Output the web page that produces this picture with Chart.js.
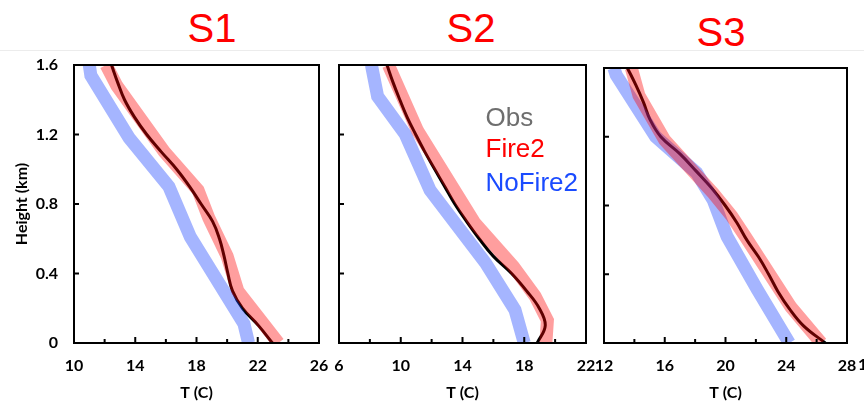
<!DOCTYPE html>
<html>
<head>
<meta charset="utf-8">
<script src="https://cdn.jsdelivr.net/npm/chart.js@4.4.0/dist/chart.umd.min.js"></script>
<style>
  body { margin: 0; background: #fff; width: 864px; height: 405px; overflow: hidden; position: relative; }
  canvas { position: absolute; top: 0; }
  .title { position: absolute; font-family: "Liberation Sans", Arial, sans-serif; font-size: 40px; line-height: 1; color: #ff0000; transform: translateX(-50%); }
  .rule { position: absolute; left: 0; top: 50px; width: 864px; height: 1px; background: #ececec; }
  .stub { position: absolute; left: 858px; top: 354px; font: bold 16px Lato, sans-serif; }
</style>
</head>
<body>
<div class="rule"></div>
<div class="title" style="left:212px; top:8px">S1</div>
<div class="title" style="left:471px; top:8px">S2</div>
<div class="title" style="left:721px; top:12px">S3</div>
<canvas id="s1" width="330" height="405" style="left:0"></canvas>
<canvas id="s2" width="265" height="405" style="left:330px"></canvas>
<canvas id="s3" width="269" height="405" style="left:595px"></canvas>
<div class="stub">1</div>
<script>
// series names / legend
const seriesNames = ['Obs', 'Fire2', 'NoFire2'];
const legendColors = ['#6e6e6e', '#ff0000', '#1a4bff'];

// heights (km) for the observed profiles
const obsH = [0, 0.1, 0.2, 0.3, 0.4, 0.5, 0.6, 0.7, 0.8, 0.9, 1.0, 1.1, 1.2, 1.3, 1.4, 1.5, 1.6];

// S1
const s1ObsT = [22.96, 22.05, 21.0, 20.35, 20.05, 19.8, 19.5, 19.05, 18.3, 17.55, 16.7, 15.7, 14.75, 13.95, 13.3, 12.85, 12.45];
const s1FireH = [0, 0.3, 0.5, 0.72, 0.88, 1.1, 1.48, 1.6];
const s1FireT = [23.35, 20.7, 20.0, 18.8, 18.1, 15.9, 12.8, 12.1];
const s1NoFireH = [0, 0.11, 0.61, 0.9, 1.18, 1.54, 1.6];
const s1NoFireT = [21.4, 21.1, 17.6, 16.2, 13.6, 11.1, 11.0];

// S2
const s2ObsT = [18.84, 19.36, 18.97, 18.15, 17.18, 15.99, 15.08, 14.26, 13.5, 12.85, 12.2, 11.56, 10.97, 10.41, 9.94, 9.5, 9.11];
const s2FireH = [0, 0.13, 0.27, 0.44, 0.69, 1.22, 1.6];
const s2FireT = [19.4, 19.5, 18.7, 17.3, 14.8, 11.1, 9.2];
const s2NoFireH = [0, 0.19, 0.46, 0.88, 1.2, 1.42, 1.6];
const s2NoFireT = [18.0, 17.4, 15.5, 11.9, 10.3, 8.5, 8.1];

// S3
const s3ObsT = [26.57, 25.14, 24.2, 23.45, 22.84, 22.18, 21.4, 20.75, 19.98, 19.1, 18.07, 17.0, 15.74, 15.03, 14.6, 14.1, 13.54];
const s3FireH = [0, 0.21, 0.62, 0.74, 0.87, 1.18, 1.44, 1.6];
const s3FireT = [26.3, 24.3, 21.3, 20.4, 19.2, 16.0, 14.3, 13.8];
const s3NoFireH = [0, 0.31, 0.62, 0.83, 0.99, 1.2, 1.56, 1.6];
const s3NoFireT = [24.2, 22.1, 20.1, 19.2, 18.1, 15.4, 12.8, 12.65];

const yTicks = [0, 0.4, 0.8, 1.2, 1.6];

function pts(h, t) {
  return h.map((v, i) => ({ x: t[i], y: v }));
}

// box frame + inward tick marks (labelled ticks a bit longer)
const boxTicks = {
  id: 'boxTicks',
  afterDatasetsDraw(chart) {
    const { ctx, chartArea: a, scales: { x, y } } = chart;
    ctx.save();
    ctx.strokeStyle = '#000';
    ctx.lineWidth = 2;
    ctx.beginPath();
    x.ticks.forEach(t => {
      const px = x.getPixelForValue(t.value);
      const len = (t.value - x.min) % 4 === 0 ? 6 : 4;
      ctx.moveTo(px, a.bottom);
      ctx.lineTo(px, a.bottom - len);
    });
    y.ticks.forEach(t => {
      const py = y.getPixelForValue(t.value);
      ctx.moveTo(a.left, py);
      ctx.lineTo(a.left + 5, py);
    });
    ctx.stroke();
    ctx.strokeRect(a.left, a.top, a.right - a.left, a.bottom - a.top);
    ctx.restore();
  }
};

// coloured text legend inside the middle panel
const textLegend = {
  id: 'textLegend',
  afterDraw(chart, args, opts) {
    if (!opts.show) return;
    const { ctx, chartArea: a } = chart;
    const rows = [61, 92, 126];
    ctx.save();
    ctx.font = '26px "Liberation Sans", Arial, sans-serif';
    seriesNames.forEach((name, i) => {
      ctx.fillStyle = legendColors[i];
      ctx.fillText(name, a.left + 146.5, a.top + rows[i]);
    });
    ctx.restore();
  }
};

function makePanel(id, xMin, xMax, obsT, fireH, fireT, noFireH, noFireT, cfg) {
  const tickFont = { family: 'Lato', size: 16, weight: 'bold' };
  return new Chart(document.getElementById(id), {
    type: 'line',
    data: {
      datasets: [
        { label: seriesNames[1], data: pts(fireH, fireT), borderColor: 'rgba(255,0,0,0.38)',
          borderWidth: 13, tension: 0, pointRadius: 0, clip: 0, order: 1 },
        { label: seriesNames[2], data: pts(noFireH, noFireT), borderColor: 'rgba(30,70,255,0.4)',
          borderWidth: 13, tension: 0, pointRadius: 0, clip: 0, order: 2 },
        { label: seriesNames[0], data: pts(obsH, obsT), borderColor: '#000',
          borderWidth: 3, tension: 0.4, pointRadius: 0, clip: 0, order: 3 }
      ]
    },
    options: {
      responsive: false,
      animation: false,
      layout: { padding: { top: cfg.top, right: cfg.right, left: 0, bottom: 0 } },
      plugins: {
        legend: { display: false },
        tooltip: { enabled: false },
        textLegend: { show: !!cfg.legend }
      },
      scales: {
        x: {
          type: 'linear',
          min: xMin,
          max: xMax,
          grid: { display: false, drawTicks: false },
          border: { display: false },
          ticks: {
            stepSize: 2,
            autoSkip: false,
            maxRotation: 0,
            padding: 13,
            color: '#000',
            font: tickFont,
            callback: v => ((v - xMin) % 4 === 0 ? String(v) : '')
          },
          title: { display: true, text: 'T (C)', color: '#000', font: tickFont, padding: { top: 0, bottom: 3 } },
          afterFit: s => { s.height = 62; s.paddingLeft = 0; s.paddingRight = 0; }
        },
        y: {
          type: 'linear',
          min: 0,
          max: 1.6,
          afterBuildTicks: s => { s.ticks = yTicks.map(v => ({ value: v })); },
          grid: { display: false, drawTicks: false },
          border: { display: false },
          ticks: { display: !!cfg.yLabels, padding: 16, color: '#000', font: tickFont },
          title: { display: !!cfg.yLabels, text: 'Height (km)', color: '#000', font: tickFont, padding: { top: 12, bottom: 0 } },
          afterFit: s => { s.width = cfg.yWidth; }
        }
      }
    },
    plugins: [boxTicks, textLegend]
  });
}

makePanel('s1', 10, 26, s1ObsT, s1FireH, s1FireT, s1NoFireH, s1NoFireT,
  { top: 65, right: 11, yWidth: 74, yLabels: true });
makePanel('s2', 6, 22, s2ObsT, s2FireH, s2FireT, s2NoFireH, s2NoFireT,
  { top: 65, right: 9, yWidth: 9, legend: true });
makePanel('s3', 12, 28, s3ObsT, s3FireH, s3FireT, s3NoFireH, s3NoFireT,
  { top: 68, right: 17, yWidth: 9 });
</script>
</body>
</html>
